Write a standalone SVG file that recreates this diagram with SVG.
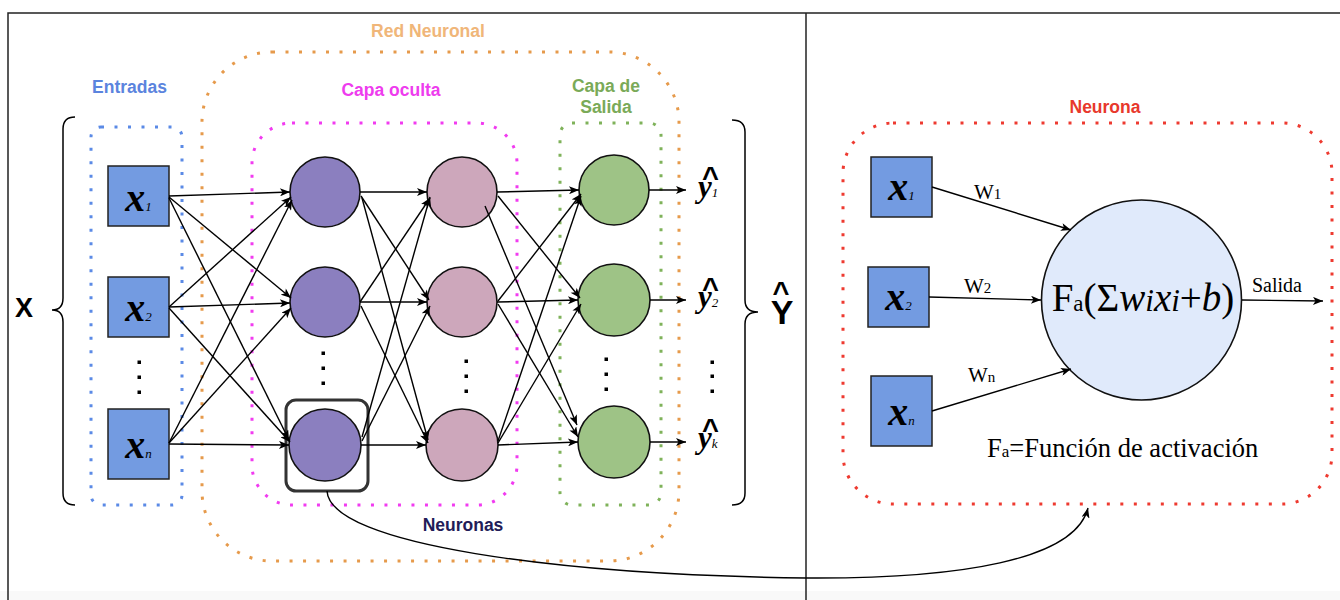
<svg xmlns="http://www.w3.org/2000/svg" width="1340" height="600" viewBox="0 0 1340 600">
  <style>
    .frame { stroke: #222; stroke-width: 1.5; fill: none; }
    .dot { fill: none; stroke-width: 3; stroke-dasharray: 3 10.5; }
    .lbl { font-family: "Liberation Sans", Arial, sans-serif; font-weight: bold; font-size: 17.5px; text-anchor: middle; }
    .box { fill: #739be1; stroke: #222; stroke-width: 1.5; }
    .h1 { fill: #8b7fbf; stroke: #111; stroke-width: 1.6; }
    .h2 { fill: #cda7bb; stroke: #111; stroke-width: 1.6; }
    .out { fill: #9ec386; stroke: #111; stroke-width: 1.6; }
    .xv { font-family: "Liberation Serif", "Times New Roman", serif; font-weight: bold; font-style: italic; font-size: 40px; fill: #000; text-anchor: middle; }
    .sub { font-size: 13px; font-weight: normal; }
    .yv { font-family: "Liberation Serif", "Times New Roman", serif; font-weight: bold; font-style: italic; font-size: 31px; fill: #000; }
    .hat { font-family: "Liberation Sans", Arial, sans-serif; font-weight: bold; font-style: normal; font-size: 29px; }
    .big { font-family: "Liberation Sans", Arial, sans-serif; font-weight: bold; fill: #000; text-anchor: middle; }
    .serif { font-family: "Liberation Serif", "Times New Roman", serif; fill: #000; }
    .ell { fill: #000; }
    .conn line, .conn path { stroke: #000; stroke-width: 1.4; fill: none; marker-end: url(#arrow); }
  </style>
  <defs>
    <marker id="arrow" viewBox="0 0 10 8" refX="10" refY="4" markerWidth="11" markerHeight="8" markerUnits="userSpaceOnUse" orient="auto">
      <path d="M0,0 L10,4 L0,8 L2.5,4 Z" fill="#000"/>
    </marker>
  </defs>

  <!-- faint band along the lower edge -->
  <rect x="0" y="591" width="1340" height="9" fill="#f9f9f9"/>

  <!-- outer frame and divider -->
  <path class="frame" d="M8,600 V13 H1340"/>
  <line class="frame" x1="806" y1="13" x2="806" y2="600"/>

  <!-- layer containers -->
  <g id="red-neuronal">
    <rect class="dot" x="202" y="52" width="477" height="509" rx="70" ry="70" stroke="#e69a4b"/>
    <text class="lbl" x="428" y="37" fill="#f0b679">Red Neuronal</text>
  </g>
  <g id="entradas">
    <rect class="dot" x="91" y="127" width="91" height="378" rx="10" ry="10" stroke="#5b8ae6"/>
    <text class="lbl" x="129.5" y="93" fill="#5b84de">Entradas</text>
  </g>
  <g id="capa-oculta">
    <rect class="dot" x="252" y="123" width="265" height="382" rx="40" ry="40" stroke="#f13bf0"/>
    <text class="lbl" x="391" y="96" fill="#ee3cee">Capa oculta</text>
    <text class="lbl" x="463" y="531" fill="#221c58">Neuronas</text>
  </g>
  <g id="capa-salida">
    <rect class="dot" x="560" y="123" width="101" height="382" rx="12" ry="12" stroke="#7fb25a"/>
    <text class="lbl" x="606" y="92" fill="#7aaa58">Capa de</text>
    <text class="lbl" x="606" y="113" fill="#7aaa58">Salida</text>
  </g>

  <!-- input set X -->
  <g id="X">
    <path d="M75,117 Q63,117 63,129 V298 Q63,310 52,310 Q63,310 63,322 V493 Q63,505 75,505" fill="none" stroke="#000" stroke-width="1.5"/>
    <text class="big" x="24" y="317" font-size="27">X</text>
  </g>

  <!-- inputs -->
  <g id="in-x1">
    <rect class="box" x="108" y="166" width="61" height="60"/>
    <text class="xv" x="138.5" y="210.5">x<tspan class="sub">1</tspan></text>
  </g>
  <g id="in-x2">
    <rect class="box" x="108" y="277" width="61" height="60"/>
    <text class="xv" x="138.5" y="320.5">x<tspan class="sub">2</tspan></text>
  </g>
  <g id="in-xn">
    <rect class="box" x="108" y="409" width="61" height="70"/>
    <text class="xv" x="138.5" y="458">x<tspan class="sub">n</tspan></text>
  </g>
  <g id="in-dots">
    <rect class="ell" x="137.5" y="360.5" width="3.5" height="3.5"/>
    <rect class="ell" x="137.5" y="375.5" width="3.5" height="3.5"/>
    <rect class="ell" x="137.5" y="390.5" width="3.5" height="3.5"/>
  </g>

  <!-- hidden layer 1 -->
  <g id="h1-1"><circle class="h1" cx="325" cy="192" r="35"/></g>
  <g id="h1-2"><circle class="h1" cx="325" cy="302" r="35"/></g>
  <g id="h1-3">
    <circle class="h1" cx="325" cy="445" r="36"/>
    <rect x="286" y="400" width="82" height="91" rx="10" ry="10" fill="none" stroke="#333" stroke-width="3"/>
  </g>
  <g id="h1-dots">
    <rect class="ell" x="321.5" y="351.5" width="3.5" height="3.5"/>
    <rect class="ell" x="321.5" y="366.5" width="3.5" height="3.5"/>
    <rect class="ell" x="321.5" y="381.5" width="3.5" height="3.5"/>
  </g>

  <!-- hidden layer 2 -->
  <g id="h2-1"><circle class="h2" cx="462" cy="192" r="35"/></g>
  <g id="h2-2"><circle class="h2" cx="462" cy="302" r="35"/></g>
  <g id="h2-3"><circle class="h2" cx="462" cy="445" r="36"/></g>
  <g id="h2-dots">
    <rect class="ell" x="464.5" y="359.5" width="3.5" height="3.5"/>
    <rect class="ell" x="464.5" y="374.5" width="3.5" height="3.5"/>
    <rect class="ell" x="464.5" y="389.5" width="3.5" height="3.5"/>
  </g>

  <!-- output layer -->
  <g id="o-1"><circle class="out" cx="614" cy="190" r="35"/></g>
  <g id="o-2"><circle class="out" cx="614" cy="300" r="36"/></g>
  <g id="o-3"><circle class="out" cx="614" cy="442" r="36"/></g>
  <g id="o-dots">
    <rect class="ell" x="604.5" y="357.5" width="3.5" height="3.5"/>
    <rect class="ell" x="604.5" y="372.5" width="3.5" height="3.5"/>
    <rect class="ell" x="604.5" y="387.5" width="3.5" height="3.5"/>
  </g>

  <!-- predictions: caret and y set in one text each -->
  <g id="y1">
    <text class="yv"><tspan class="hat" x="702" y="187">^</tspan><tspan x="698" y="197">y</tspan><tspan class="sub">1</tspan></text>
  </g>
  <g id="y2">
    <text class="yv"><tspan class="hat" x="702" y="298">^</tspan><tspan x="698" y="307">y</tspan><tspan class="sub">2</tspan></text>
  </g>
  <g id="yk">
    <text class="yv"><tspan class="hat" x="702" y="439">^</tspan><tspan x="698" y="448">y</tspan><tspan class="sub">k</tspan></text>
  </g>
  <g id="y-dots">
    <rect class="ell" x="710.5" y="360.5" width="3.5" height="3.5"/>
    <rect class="ell" x="710.5" y="374.5" width="3.5" height="3.5"/>
    <rect class="ell" x="710.5" y="389.5" width="3.5" height="3.5"/>
  </g>

  <!-- output set Y-hat -->
  <g id="Y">
    <path d="M732,120 Q745,120 745,132 V300 Q745,312 758,312 Q745,312 745,324 V493 Q745,505 732,505" fill="none" stroke="#000" stroke-width="1.5"/>
    <text class="big" font-size="34"><tspan class="hat" x="781" y="302">^</tspan><tspan x="782" y="324">Y</tspan></text>
  </g>

  <!-- single neuron detail -->
  <g id="neurona">
    <rect class="dot" x="843" y="123" width="489" height="381" rx="50" ry="50" stroke="#ee3a30"/>
    <text class="lbl" x="1105" y="113" fill="#e8382c">Neurona</text>
  </g>
  <g id="n-x1">
    <rect class="box" x="871" y="157" width="61" height="60"/>
    <text class="xv" x="901.5" y="200">x<tspan class="sub">1</tspan></text>
  </g>
  <g id="n-x2">
    <rect class="box" x="868" y="267" width="61" height="60"/>
    <text class="xv" x="898.5" y="310">x<tspan class="sub">2</tspan></text>
  </g>
  <g id="n-xn">
    <rect class="box" x="871" y="376" width="61" height="70"/>
    <text class="xv" x="901.5" y="425">x<tspan class="sub">n</tspan></text>
  </g>
  <g id="n-body">
    <circle cx="1141.5" cy="300" r="100" fill="#e0eafb" stroke="#111" stroke-width="1.6"/>
    <text class="serif" x="1143" y="311" font-size="39" text-anchor="middle">F<tspan font-size="23">a</tspan>(Σ<tspan font-style="italic">w</tspan><tspan font-style="italic" font-size="31">i</tspan><tspan font-style="italic">x</tspan><tspan font-style="italic" font-size="31">i</tspan>+<tspan font-style="italic">b</tspan>)</text>
  </g>
  <g id="n-weights">
    <text class="serif" x="974" y="199" font-size="21">W<tspan font-size="15">1</tspan></text>
    <text class="serif" x="964" y="293" font-size="21">W<tspan font-size="15">2</tspan></text>
    <text class="serif" x="968" y="382" font-size="21">W<tspan font-size="15">n</tspan></text>
    <text class="serif" x="1252" y="292" font-size="20">Salida</text>
  </g>
  <g id="n-legend">
    <text class="serif" x="987" y="457" font-size="26.5">F<tspan font-size="17">a</tspan>=Función de activación</text>
  </g>

  <!-- connectors -->
  <g id="connectors" class="conn">
    <!-- inputs to hidden layer 1 -->
    <line x1="169" y1="196" x2="290" y2="192"/>
    <line x1="169" y1="197" x2="291" y2="298"/>
    <line x1="169" y1="198" x2="289" y2="440"/>
    <line x1="169" y1="307" x2="291" y2="197"/>
    <line x1="169" y1="307" x2="290" y2="303"/>
    <line x1="169" y1="308" x2="290" y2="442"/>
    <line x1="169" y1="443" x2="292" y2="200"/>
    <line x1="169" y1="443" x2="291" y2="308"/>
    <line x1="169" y1="444" x2="289" y2="445"/>
    <!-- hidden layer 1 to hidden layer 2 -->
    <line x1="360" y1="192" x2="427" y2="192"/>
    <line x1="361" y1="196" x2="429" y2="300"/>
    <line x1="362" y1="198" x2="428" y2="440"/>
    <line x1="360" y1="302" x2="430" y2="198"/>
    <line x1="360" y1="302" x2="427" y2="302"/>
    <line x1="361" y1="306" x2="428" y2="443"/>
    <line x1="362" y1="437" x2="430" y2="197"/>
    <line x1="362" y1="441" x2="430" y2="306"/>
    <line x1="361" y1="445" x2="426" y2="445"/>
    <!-- hidden layer 2 to outputs -->
    <line x1="497" y1="192" x2="579" y2="190"/>
    <line x1="498" y1="196" x2="580" y2="298"/>
    <line x1="485" y1="206" x2="577" y2="425"/>
    <line x1="498" y1="301" x2="581" y2="194"/>
    <line x1="497" y1="302" x2="578" y2="300"/>
    <line x1="498" y1="304" x2="578" y2="437"/>
    <line x1="498" y1="441" x2="581" y2="196"/>
    <line x1="498" y1="443" x2="581" y2="304"/>
    <line x1="498" y1="445" x2="578" y2="442"/>
    <!-- outputs to predictions -->
    <line x1="649" y1="190" x2="686" y2="190"/>
    <line x1="650" y1="300" x2="686" y2="300"/>
    <line x1="650" y1="442" x2="686" y2="442"/>
    <!-- zoom link to the neuron detail -->
    <path d="M327,491 C330,545 560,575 806,578 C960,579 1075,560 1088,508"/>
    <!-- neuron inputs and output -->
    <line x1="932" y1="187" x2="1071" y2="230"/>
    <line x1="929" y1="297" x2="1041" y2="300"/>
    <line x1="932" y1="411" x2="1071" y2="369"/>
    <line x1="1242" y1="300" x2="1323" y2="301"/>
  </g>
</svg>
